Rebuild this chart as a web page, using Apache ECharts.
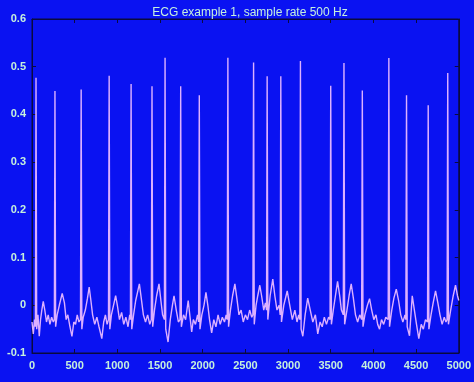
<!DOCTYPE html>
<html>
<head>
<meta charset="utf-8">
<script src="https://cdn.jsdelivr.net/npm/echarts@6/dist/echarts.min.js"></script>
<style>
html,body{margin:0;padding:0;background:#0a12f2;}
#chart{width:474px;height:382px;}
</style>
</head>
<body>
<div id="chart"></div>
<script>
// sample index of each read point
var sampleIdx = [
0,15,30,40,47,55,70,85,100,115,132,150,170,190,210,230,250,262,269,277,
295,320,354,380,400,420,445,468,490,510,530,550,568,576,584,600,625,650,670,690,
710,735,760,785,818,840,860,880,896,904,912,930,955,980,1000,1025,1050,1075,1100,1125,
1145,1153,1161,1169,1190,1215,1240,1258,1280,1305,1330,1355,1380,1398,1406,1414,1435,1460,1488,1510,
1530,1551,1559,1567,1594,1620,1645,1664,1690,1715,1734,1742,1750,1775,1800,1830,1871,1890,1915,1940,
1952,1960,1968,1990,2015,2038,2060,2080,2105,2130,2155,2180,2205,2230,2255,2275,2287,2295,2303,2325,
2350,2377,2400,2425,2450,2475,2500,2525,2550,2575,2588,2596,2604,2625,2645,2669,2690,2715,2735,2748,
2755,2763,2790,2821,2845,2870,2895,2908,2915,2923,2950,2990,3020,3050,3080,3105,3125,3138,3145,3153,
3173,3200,3230,3260,3290,3320,3348,3375,3400,3425,3450,3475,3492,3500,3508,3530,3555,3580,3605,3625,
3647,3655,3663,3690,3715,3740,3765,3790,3815,3840,3862,3870,3878,3900,3930,3955,3980,4005,4030,4050,
4072,4095,4120,4145,4173,4181,4189,4215,4240,4268,4295,4320,4345,4370,4380,4388,4396,4423,4455,4480,
4505,4532,4560,4585,4610,4634,4642,4650,4675,4700,4728,4755,4780,4805,4830,4850,4863,4871,4879,4905,
4935,4962,4985,5000
];
// ECG amplitude at each point
var ecgValue = [
-0.035,-0.06,-0.03,-0.045,0.477,-0.05,-0.02,-0.065,-0.03,-0.01,0.008,-0.01,-0.035,-0.02,-0.04,-0.025,-0.035,-0.03,0.449,-0.045,
-0.02,0.0,0.025,0.005,-0.03,-0.02,-0.045,-0.065,-0.035,-0.04,-0.02,-0.035,-0.03,0.452,-0.05,-0.025,-0.01,0.015,0.038,0.01,
-0.02,-0.04,-0.025,-0.045,-0.07,-0.035,-0.02,-0.04,-0.03,0.481,-0.05,-0.02,0.0,0.02,0.0,-0.03,-0.015,-0.04,-0.025,-0.045,
-0.02,-0.03,0.464,-0.05,-0.02,0.01,0.03,0.045,0.015,-0.02,-0.035,-0.02,-0.04,-0.03,0.459,-0.045,-0.01,0.02,0.045,0.01,
-0.02,-0.03,0.519,-0.05,-0.077,-0.03,0.0,0.02,-0.01,-0.035,-0.03,0.459,-0.045,-0.02,-0.03,0.01,-0.056,-0.03,-0.04,-0.02,
-0.035,0.44,-0.05,-0.02,0.0,0.027,0.0,-0.03,-0.058,-0.03,-0.045,-0.02,-0.04,-0.025,-0.035,-0.02,-0.03,0.519,-0.045,-0.01,
0.02,0.045,0.015,-0.02,-0.01,-0.035,-0.02,-0.03,-0.01,-0.025,-0.02,0.509,-0.04,0.0,0.02,0.042,0.02,-0.01,0.005,-0.01,
0.48,-0.03,0.02,0.055,0.02,-0.01,0.0,-0.02,0.48,-0.035,0.0,0.03,0.0,-0.03,-0.01,-0.035,-0.02,-0.03,0.512,-0.05,
-0.065,-0.02,0.015,-0.01,-0.035,-0.02,-0.06,-0.035,-0.045,-0.025,-0.04,-0.025,-0.03,0.46,-0.04,-0.01,0.02,0.05,0.02,-0.01,
-0.02,0.508,-0.04,-0.01,0.02,0.045,0.015,-0.02,-0.035,-0.02,-0.03,0.45,-0.045,-0.02,0.0,0.014,-0.01,-0.03,-0.02,-0.04,
-0.05,-0.03,-0.04,-0.025,-0.03,0.518,-0.045,-0.01,0.015,0.034,0.01,-0.02,-0.035,-0.02,-0.03,0.44,-0.045,-0.064,0.02,-0.01,
-0.04,-0.07,-0.04,-0.05,-0.03,-0.035,0.419,-0.05,-0.02,0.005,0.03,0.005,-0.02,-0.04,-0.025,-0.035,-0.03,0.487,-0.04,-0.01,
0.02,0.042,0.02,0.01
];
var xTickLabels = ['0','500','1000','1500','2000','2500','3000','3500','4000','4500','5000'];
var yTickLabels = ['-0.1','0','0.1','0.2','0.3','0.4','0.5','0.6'];
var titleText = 'ECG example 1, sample rate 500 Hz';

var seriesData = sampleIdx.map(function(s, i){ return [s, ecgValue[i]]; });
var textColor = '#c6f0dc';
var frameColor = '#0a0a40';

var chart = echarts.init(document.getElementById('chart'), null, {renderer:'canvas'});
var xLabelFmt = function(v){ var i = Math.round(v/500); return xTickLabels[i] !== undefined ? xTickLabels[i] : ''; };
var yLabelFmt = function(v){ var i = Math.round((v + 0.1)/0.1); return yTickLabels[i] !== undefined ? yTickLabels[i] : ''; };
chart.setOption({
  backgroundColor: '#0a12f2',
  animation: false,
  title: {
    text: titleText, left: 245, top: 2, textAlign: 'center',
    textStyle: {color: textColor, fontSize: 12, fontWeight: 'normal', fontFamily: 'Liberation Sans'}
  },
  grid: {left: 32, right: 15, top: 19, bottom: 29, show: true, borderColor: frameColor, borderWidth: 1, backgroundColor: 'transparent'},
  xAxis: [{
    type: 'value', min: 0, max: 5000, interval: 500, position: 'bottom',
    axisLine: {show: true, onZero: false, lineStyle: {color: frameColor}},
    axisTick: {show: true, inside: true, length: 4, lineStyle: {color: frameColor}},
    axisLabel: {color: textColor, fontSize: 11, fontWeight: 'bold', fontFamily: 'Liberation Sans', margin: 7, formatter: xLabelFmt},
    splitLine: {show: false}
  },{
    type: 'value', min: 0, max: 5000, interval: 500, position: 'top',
    axisLine: {show: true, onZero: false, lineStyle: {color: frameColor}},
    axisTick: {show: true, inside: true, length: 4, lineStyle: {color: frameColor}},
    axisLabel: {show: false}, splitLine: {show: false}
  }],
  yAxis: [{
    type: 'value', min: -0.1, max: 0.6, interval: 0.1, position: 'left',
    axisLine: {show: true, onZero: false, lineStyle: {color: frameColor}},
    axisTick: {show: true, inside: true, length: 4, lineStyle: {color: frameColor}},
    axisLabel: {color: textColor, fontSize: 11, fontWeight: 'bold', fontFamily: 'Liberation Sans', margin: 6, formatter: yLabelFmt},
    splitLine: {show: false}
  },{
    type: 'value', min: -0.1, max: 0.6, interval: 0.1, position: 'right',
    axisLine: {show: true, onZero: false, lineStyle: {color: frameColor}},
    axisTick: {show: true, inside: true, length: 4, lineStyle: {color: frameColor}},
    axisLabel: {show: false}, splitLine: {show: false}
  }],
  series: [{
    type: 'line', xAxisIndex: 0, yAxisIndex: 0,
    data: seriesData, showSymbol: false, symbol: 'none',
    lineStyle: {color: '#dcb0ff', width: 1.4},
    z: 3
  }]
});
</script>
</body>
</html>
